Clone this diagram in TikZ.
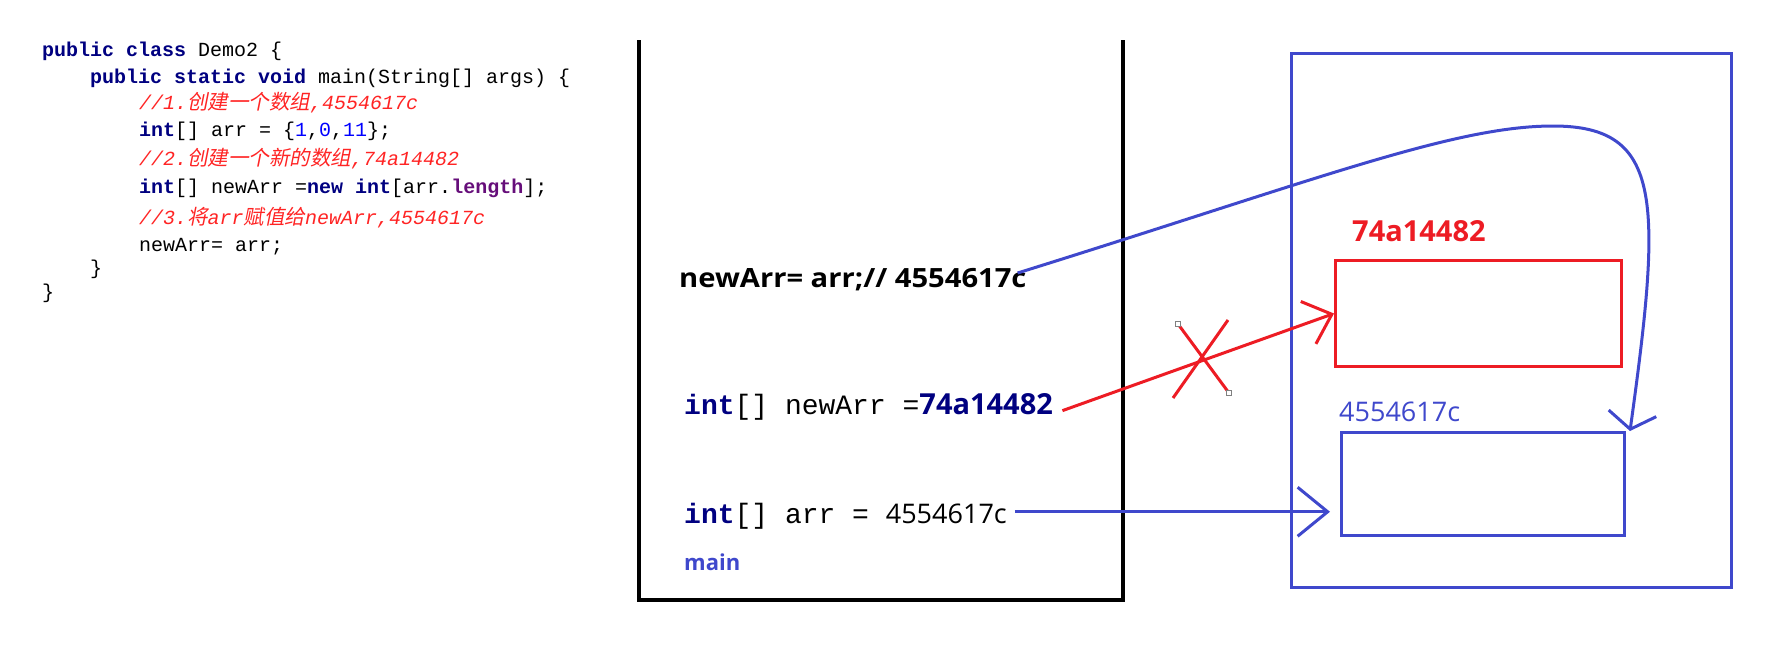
\documentclass[tikz,border=0pt]{standalone}
\usepackage{fontspec}
\usepackage{tikz}
\usepackage{xcolor}
\usetikzlibrary{arrows.meta}
\setmainfont{Open Sans}
\newfontfamily\codefont{Liberation Mono}
\newfontfamily\cjkfont[FakeSlant=0.2]{Noto Sans CJK SC}
\newfontfamily\widebold[FakeStretch=1.1]{Open Sans Bold}
\definecolor{kwblue}{HTML}{000080}
\definecolor{numblue}{HTML}{0000FF}
\definecolor{fieldpurple}{HTML}{660E7A}
\definecolor{cmtred}{HTML}{FF2424}
\definecolor{paintblue}{HTML}{3F48CC}
\definecolor{paintred}{HTML}{ED1C24}
\newcommand{\kw}[1]{{\bfseries\color{kwblue}#1}}
\newcommand{\num}[1]{{\color{numblue}#1}}
\newcommand{\zh}[1]{{\upshape\cjkfont\fontsize{20.5}{24}\selectfont #1}}
\newcommand{\cmt}[1]{{\itshape\color{cmtred}#1}}

\begin{document}
\begin{tikzpicture}[x=1pt, y=-1pt,
    code/.style={anchor=base west, inner sep=0pt, font=\codefont\fontsize{20}{24}\selectfont},
    stacktext/.style={anchor=base west, inner sep=0pt},
    heapbox/.style={draw, line width=3pt, anchor=north west, inner sep=0pt},
    ref/.style={line width=3pt}]
    \useasboundingbox (0,0) rectangle (1782,645);
    % Source code
    \node[code] (c1) at (42,56) {\kw{public class} Demo2 \{};
    \node[code] (c2) at (90,83) {\kw{public static void} main(String[] args) \{};
    \node[code] (c3) at (139,109) {\cmt{//1.\zh{创建一个数组},4554617c}};
    \node[code] (c4) at (139,136) {\kw{int}[] arr = \{\num{1},\num{0},\num{11}\};};
    \node[code] (c5) at (139,165) {\cmt{//2.\zh{创建一个新的数组},74a14482}};
    \node[code] (c6) at (139,193) {\kw{int}[] newArr =\kw{new} \kw{int}[arr.{\bfseries\color{fieldpurple}length}];};
    \node[code] (c7) at (139,224) {\cmt{//3.\zh{将}arr\zh{赋值给}newArr,4554617c}};
    \node[code] (c8) at (139,251) {newArr= arr;};
    \node[code] (c9) at (90,274) {\}};
    \node[code] (c10) at (42,298) {\}};
    % Stack frame
    \draw[line width=3.5pt] (639,40) -- (639,600) -- (1123,600) -- (1123,40);
    \node[stacktext, font=\widebold\fontsize{26.5}{30}\selectfont] (assign) at (679,287) {newArr= arr;// 4554617c};
    \node[stacktext, font=\codefont\fontsize{28}{32}\selectfont] (newdecl) at (684,414)
        {\kw{int}[] newArr =\kw{\rmfamily\fontsize{29}{32}\selectfont 74a14482}};
    \node[stacktext, font=\codefont\fontsize{28}{32}\selectfont] (arrdecl) at (684,523)
        {\kw{int}[] arr = {\rmfamily\fontsize{27}{32}\selectfont 4554617c}};
    \node[stacktext, font=\bfseries\fontsize{22}{26}\selectfont, text=paintblue] (mainlbl) at (684,570) {main};
    % Heap
    \node[heapbox, draw=paintblue, minimum width=440, minimum height=534] (heap) at (1290,52) {};
    \node[heapbox, draw=paintred, minimum width=286, minimum height=106] (redbox) at (1334,259) {};
    \node[heapbox, draw=paintblue, minimum width=283, minimum height=103] (arrbox) at (1340,431) {};
    \node[stacktext, font=\bfseries\fontsize{29}{32}\selectfont, text=paintred] (redaddr) at (1352,241) {74a14482};
    \node[stacktext, font=\fontsize{27}{30}\selectfont, text=paintblue] (blueaddr) at (1339,421) {4554617c};
    % References
    \draw[ref, paintblue, -{Straight Barb[length=30pt, width=49pt]}, shorten <=8pt, shorten >=10pt]
        ([yshift=4pt]arrdecl.east) -- ([yshift=4pt]arrdecl.east -| arrbox.west);
    \draw[ref, paintred, -{Straight Barb[length=25pt, width=45pt]}, shorten <=10pt]
        (newdecl.base east) -- (redbox.west);
    \draw[ref, paintblue, -{Straight Barb[length=16pt, width=48pt]}]
        ([xshift=-9pt, yshift=14pt]assign.base east) .. controls (1316,180) and (1453,126) .. (1553,126)
        .. controls (1663,126) and (1662,200) .. ([xshift=4pt]arrbox.north east);
    % Crossed-out reference
    \draw[ref, paintred] (1178,324) -- (1229,393) (1228,320) -- (1173,398);
    \draw[gray, line width=0.8pt, fill=white] (1175.5,321.5) rectangle +(5,5);
    \draw[gray, line width=0.8pt, fill=white] (1226.5,390.5) rectangle +(5,5);
\end{tikzpicture}
\end{document}
